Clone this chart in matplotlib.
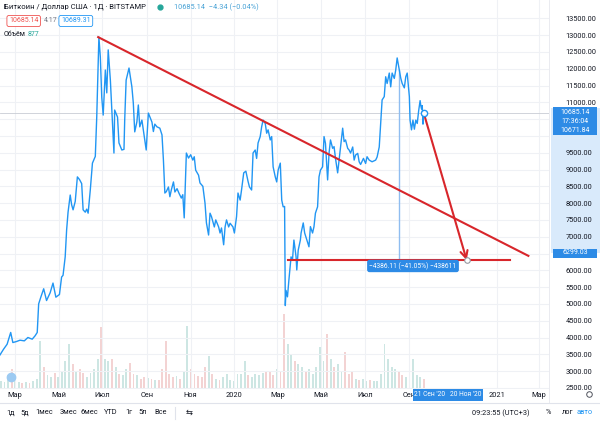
import numpy as np
import matplotlib.pyplot as plt
import matplotlib.dates as mdates
from matplotlib.patches import Rectangle

plt.rcParams['font.family'] = ['Roboto', 'DejaVu Sans']

# BTC/USD daily close
price_dates = [
    '2019-02-08', '2019-02-13', '2019-02-18', '2019-02-23', '2019-02-26', '2019-03-03',
    '2019-03-08', '2019-03-14', '2019-03-19', '2019-03-25', '2019-03-29', '2019-04-01',
    '2019-04-03', '2019-04-06', '2019-04-10', '2019-04-14', '2019-04-19', '2019-04-23',
    '2019-04-27', '2019-05-02', '2019-05-05', '2019-05-07', '2019-05-10', '2019-05-12',
    '2019-05-14', '2019-05-17', '2019-05-19', '2019-05-21', '2019-05-24', '2019-05-27',
    '2019-05-30', '2019-06-02', '2019-06-04', '2019-06-07', '2019-06-09', '2019-06-11',
    '2019-06-14', '2019-06-17', '2019-06-21', '2019-06-23', '2019-06-26', '2019-06-28',
    '2019-06-30', '2019-07-02', '2019-07-05', '2019-07-07', '2019-07-09', '2019-07-12',
    '2019-07-15', '2019-07-17', '2019-07-18', '2019-07-22', '2019-07-24', '2019-07-28',
    '2019-07-31', '2019-08-01', '2019-08-03', '2019-08-07', '2019-08-11', '2019-08-13',
    '2019-08-15', '2019-08-18', '2019-08-20', '2019-08-22', '2019-08-25', '2019-08-27',
    '2019-08-31', '2019-09-03', '2019-09-08', '2019-09-10', '2019-09-12', '2019-09-15',
    '2019-09-19', '2019-09-22', '2019-09-24', '2019-09-26', '2019-09-28', '2019-10-01',
    '2019-10-03', '2019-10-05', '2019-10-08', '2019-10-10', '2019-10-13', '2019-10-16',
    '2019-10-19', '2019-10-21', '2019-10-23', '2019-10-26', '2019-10-29', '2019-11-01',
    '2019-11-04', '2019-11-06', '2019-11-08', '2019-11-12', '2019-11-14', '2019-11-18',
    '2019-11-21', '2019-11-23', '2019-11-26', '2019-11-28', '2019-11-30', '2019-12-04',
    '2019-12-06', '2019-12-10', '2019-12-12', '2019-12-14', '2019-12-17', '2019-12-19',
    '2019-12-21', '2019-12-24', '2019-12-26', '2019-12-30', '2020-01-01', '2020-01-04',
    '2020-01-06', '2020-01-09', '2020-01-11', '2020-01-14', '2020-01-17', '2020-01-20',
    '2020-01-22', '2020-01-25', '2020-01-27', '2020-01-30', '2020-02-01', '2020-02-03',
    '2020-02-06', '2020-02-08', '2020-02-10', '2020-02-13', '2020-02-15', '2020-02-17',
    '2020-02-20', '2020-02-22', '2020-02-24', '2020-02-27', '2020-02-29', '2020-03-02',
    '2020-03-05', '2020-03-07', '2020-03-09', '2020-03-11', '2020-03-12', '2020-03-13',
    '2020-03-15', '2020-03-17', '2020-03-20', '2020-03-22', '2020-03-24', '2020-03-27',
    '2020-03-28', '2020-03-30', '2020-04-02', '2020-04-03', '2020-04-06', '2020-04-08',
    '2020-04-11', '2020-04-14', '2020-04-16', '2020-04-19', '2020-04-21', '2020-04-23',
    '2020-04-26', '2020-04-28', '2020-04-30', '2020-05-03', '2020-05-05', '2020-05-07',
    '2020-05-10', '2020-05-12', '2020-05-14', '2020-05-17', '2020-05-19', '2020-05-21',
    '2020-05-24', '2020-05-26', '2020-05-28', '2020-05-31', '2020-06-02', '2020-06-04',
    '2020-06-07', '2020-06-09', '2020-06-11', '2020-06-14', '2020-06-16', '2020-06-18',
    '2020-06-21', '2020-06-23', '2020-06-25', '2020-06-29', '2020-07-02', '2020-07-04',
    '2020-07-07', '2020-07-11', '2020-07-16', '2020-07-18', '2020-07-21', '2020-07-23',
    '2020-07-25', '2020-07-28', '2020-07-30', '2020-08-01', '2020-08-04', '2020-08-06',
    '2020-08-08', '2020-08-11', '2020-08-13', '2020-08-15', '2020-08-18', '2020-08-20',
    '2020-08-22', '2020-08-25', '2020-08-27', '2020-08-29', '2020-09-01', '2020-09-02',
    '2020-09-04', '2020-09-06', '2020-09-08', '2020-09-10', '2020-09-12', '2020-09-14',
    '2020-09-16', '2020-09-17', '2020-09-18', '2020-09-19', '2020-09-20', '2020-09-21',
]
price_values = [
    3480, 3650, 3800, 4150, 3850, 3880,
    3920, 3900, 4000, 3950, 4050, 4150,
    5000, 5200, 5450, 5100, 5330, 5620,
    5200, 5280, 5800, 5850, 6400, 7200,
    7730, 8240, 7950, 7800, 8050, 8780,
    8700, 8580, 7800, 7730, 7820, 7700,
    8390, 9190, 9390, 10560, 12940, 12350,
    11150, 10620, 11960, 11280, 12560, 11660,
    10380, 9490, 10770, 10560, 9790, 9580,
    9600, 10470, 11660, 12020, 11460, 10980,
    10120, 10420, 10920, 10270, 10470, 10180,
    9580, 10680, 10410, 10130, 10350, 10270,
    10230, 10030, 9280, 8300, 8340, 8480,
    8190, 8390, 8630, 8330, 8430, 8280,
    8150, 8250, 7560, 9490, 9340, 9440,
    9280, 9380, 8980, 8830, 8600, 8500,
    8000, 7410, 7050, 7700, 7600, 7290,
    7500, 7290, 7110, 7260, 6760, 7290,
    7500, 7290, 7400, 7290, 7110, 7600,
    8300, 8090, 8400, 8900, 8950, 8650,
    8480, 8390, 9490, 9580, 9330, 9790,
    9980, 10270, 10470, 10370, 10080, 10180,
    9880, 9980, 9080, 8780, 8630, 8980,
    9190, 8090, 7890, 7900, 4950, 5400,
    5210, 5710, 6400, 6300, 6900, 6400,
    6010, 6600, 6900, 7110, 7410, 7110,
    6900, 6700, 7300, 7110, 7300, 7700,
    7890, 8780, 8980, 9080, 9980, 9780,
    8690, 9490, 9880, 9630, 9680, 9330,
    8900, 9280, 9670, 10230, 9830, 9880,
    9630, 9580, 9490, 9670, 9280, 9430,
    9480, 9230, 9150, 9330, 9180, 9380,
    9280, 9230, 9280, 9370, 9670, 10380,
    11070, 11170, 11760, 11560, 11870, 11460,
    11870, 11710, 11960, 12320, 11960, 11720,
    11560, 11430, 11760, 11870, 11170, 10470,
    10180, 10470, 10200, 10470, 10370, 10750,
    11050, 10900, 10800, 10900, 10350, 10685.14,
]

# volume, one value per 5 days starting 2019-02-08 (BTC)
volume_start = '2019-02-08'
volume_btc = [
    4000, 3500, 7000, 10000, 4500, 3500, 3000, 3500, 3000, 4000,
    5000, 24000, 11000, 7000, 6000, 8000, 6000, 9000, 14000, 22500,
    12500, 9000, 10000, 8000, 6000, 8000, 10000, 15000, 31000, 15000,
    14000, 15000, 11000, 7500, 7000, 10000, 13000, 7500, 7000, 5000,
    6000, 5500, 5000, 4500, 4500, 10000, 24000, 7500, 6000, 6500,
    5000, 9000, 31500, 10000, 7500, 6500, 6000, 11000, 16500, 7500,
    5000, 4500, 6000, 7500, 4500, 4000, 7500, 7500, 14000, 7000,
    6000, 7500, 7000, 8000, 9000, 9000, 7000, 10000, 9000, 37500,
    22500, 17500, 14000, 12500, 11000, 9000, 10000, 7500, 11000, 21000,
    14000, 27500, 15000, 11000, 12500, 9000, 18500, 7500, 9000, 5000,
    4500, 5000, 4000, 4500, 4000, 4000, 7500, 22500, 15000, 11000,
    10000, 9000, 7000, 6000, 7500, 15000, 7000, 6000, 5000,
]

last_price = 10685.14
target_price = 6299.03
target_date = '2020-11-20'
trend_line = (['2019-06-25', '2021-02-14'], [12940, 6430])
support_line = (['2020-03-16', '2021-01-20'], [target_price, target_price])
range_line = (['2020-08-17', '2020-08-17'], [11950, target_price])

price_ticks = np.arange(2500, 14000, 500)
hidden_ticks = [6500, 10000, 10500]  # covered by the price tags
month_ticks = ['2019-03-01', '2019-05-01', '2019-07-01', '2019-09-01', '2019-11-01',
               '2020-01-01', '2020-03-01', '2020-05-01', '2020-07-01', '2020-09-01',
               '2021-01-01', '2021-03-01']
month_labels = ['Мар', 'Май', 'Июл', 'Сен', 'Ноя', '2020', 'Мар', 'Май', 'Июл', 'Сен',
                '2021', 'Мар']

BLUE = '#2196f3'
RED = '#d8262b'
TXT = '#131722'
TAG = '#2d8be6'

W, H = 600, 424
fig = plt.figure(figsize=(6, 4.24), dpi=100)


def fx(x):
    return x / W


def fy(y):
    return 1 - y / H


pane = [0, fy(389), 549 / W, 389 / H]
axv = fig.add_axes(pane)
ax = fig.add_axes(pane, sharex=axv)
ax.set_zorder(1)
axv.set_zorder(0)
ax.patch.set_visible(False)

# pixel scale of the screenshot: 0.717 px per day, 0.0336 px per dollar
origin = mdates.date2num(np.datetime64('2019-03-01'))
ax.set_xlim(origin - 15 / 0.717, origin + 534 / 0.717)
ax.set_ylim(13500 - (389 - 18.3) / 0.0336, 13500 + 18.3 / 0.0336)

dates = np.array(price_dates, dtype='datetime64[D]')
prices = np.array(price_values)

# volume bars
vdates = np.datetime64(volume_start) + np.arange(len(volume_btc)) * 5
dnum = mdates.date2num(dates)
vnum = mdates.date2num(vdates)
p_now = np.interp(vnum + 4, dnum, prices)
p_prev = np.interp(vnum - 1, dnum, prices)
vcol = ['#cde6e3' if a >= b else '#f3d3d3' for a, b in zip(p_now, p_prev)]
axv.bar(vdates, volume_btc, width=2.6, align='edge', color=vcol, linewidth=0)
axv.set_ylim(0, 389 * 500)
axv.axis('off')

# grid and axes
ax.set_xticks(mdates.date2num(np.array(month_ticks, dtype='datetime64[D]')))
ax.set_xticklabels(month_labels)
ax.yaxis.tick_right()
ax.set_yticks(price_ticks)
ax.set_yticklabels(['' if v in hidden_ticks else f'{v:.2f}' for v in price_ticks])
ax.grid(True, color='#eff1f5', lw=0.8)
ax.tick_params(axis='both', length=0, labelsize=5.3, labelcolor=TXT)
ax.tick_params(axis='y', pad=12)
ax.tick_params(axis='x', pad=2.5)
for s in ax.spines.values():
    s.set_visible(False)

ax.axhline(last_price, color='#c9ccd4', lw=0.6, zorder=2)

# price line
ax.plot(dates, prices, color=BLUE, lw=1.0, zorder=3)
ax.plot(dates[-1], last_price, 'o', mfc='white', mec=BLUE, ms=4.5, mew=1.0, zorder=6)

# drawings
ax.plot(np.array(range_line[0], dtype='datetime64[D]'), range_line[1],
        color='#8fbdf0', lw=1.0, zorder=2)
ax.plot(np.array(trend_line[0], dtype='datetime64[D]'), trend_line[1],
        color=RED, lw=1.5, zorder=4)
ax.plot(np.array(support_line[0], dtype='datetime64[D]'), support_line[1],
        color=RED, lw=1.5, zorder=4)
tdate = mdates.date2num(np.datetime64(target_date))
ax.annotate('', xy=(tdate, target_price), xytext=(dnum[-1], last_price),
            arrowprops=dict(arrowstyle='->', color=RED, lw=1.5, mutation_scale=13,
                            shrinkA=0, shrinkB=0), zorder=5)
ax.plot(tdate, target_price, 'o', mfc='white', mec='#9598a1', ms=4, mew=0.8, zorder=6)

fig.text(fx(413), fy(266), '−4386.11 (−41.05%) −438611', fontsize=4.8, color='white',
         ha='center', va='center',
         bbox=dict(boxstyle='round,pad=0.35', fc=TAG, ec='none'))

# header legend
fig.text(fx(4), fy(7), 'Биткоин / Доллар США · 1Д · BITSTAMP', fontsize=5.5,
         color=TXT, va='center')
fig.add_artist(plt.Line2D([fx(160)], [fy(7)], marker='o', ms=3.5, color='#26a69a',
                          transform=fig.transFigure))
fig.text(fx(174), fy(7), '10685.14  −4.34 (−0.04%)', fontsize=5.3, color='#4aa3d6',
         va='center')
fig.text(fx(9), fy(21), '10685.14', fontsize=5, color='#ef5350', va='center',
         bbox=dict(boxstyle='round,pad=0.3', fc='white', ec='#ef5350', lw=0.6))
fig.text(fx(44), fy(21), '4.17', fontsize=5, color='#787b86', va='center')
fig.text(fx(61), fy(21), '10689.31', fontsize=5, color=BLUE, va='center',
         bbox=dict(boxstyle='round,pad=0.3', fc='white', ec=BLUE, lw=0.6))
fig.text(fx(4), fy(35), 'Объём', fontsize=5, color=TXT, va='center')
fig.text(fx(28), fy(35), '877', fontsize=5, color='#26a69a', va='center')

# price scale highlight and tags
fig.add_artist(Rectangle((fx(551), fy(253)), fx(49), (253 - 108) / H,
                         transform=fig.transFigure, fc='#d9eafb', ec='none', zorder=0.5))


def axis_tag(y, text):
    fig.add_artist(Rectangle((fx(553), fy(y + 4.5)), fx(44), 9 / H,
                             transform=fig.transFigure, fc=TAG, ec='none', zorder=5))
    fig.text(fx(575), fy(y), text, fontsize=5, color='white', ha='center',
             va='center', zorder=6)


axis_tag(112, '10685.14')
axis_tag(121, '17:36:04')
axis_tag(130, '10671.84')
axis_tag(253, '6299.03')


def time_tag(x, text):
    fig.add_artist(Rectangle((fx(x - 17.5), fy(401)), fx(35), 12 / H,
                             transform=fig.transFigure, fc=TAG, ec='none', zorder=5))
    fig.text(fx(x), fy(395), text, fontsize=4.8, color='white', ha='center',
             va='center', zorder=6)


time_tag(430, "21 Сен '20")
time_tag(465.5, "20 Ноя '20")

# separators
fig.add_artist(plt.Line2D([fx(549), fx(549)], [fy(0), fy(403)], color='#e6e8ee', lw=0.6,
                          transform=fig.transFigure))
fig.add_artist(plt.Line2D([0, 1], [fy(403), fy(403)], color='#e0e3eb', lw=0.8,
                          transform=fig.transFigure))
fig.add_artist(plt.Line2D([fx(175), fx(175)], [fy(407), fy(419)], color='#e0e3eb', lw=0.8,
                          transform=fig.transFigure))
fig.add_artist(plt.Line2D([fx(11)], [fy(377)], marker='o', ms=6, color='#9ccaf2',
                          transform=fig.transFigure))
fig.add_artist(plt.Line2D([fx(589)], [fy(394)], marker='o', ms=4, mfc='white',
                          mec='#50535e', mew=0.7, transform=fig.transFigure))

# bottom toolbar
toolbar = [('1д', 11), ('5д', 25), ('1мес', 44), ('3мес', 68), ('6мес', 89),
           ('YTD', 111), ('1г', 129), ('5л', 143), ('Все', 161)]
for lbl, x in toolbar:
    fig.text(fx(x), fy(413), lbl, fontsize=5.3, color=TXT, ha='center', va='center')
fig.text(fx(189), fy(413), '⇆', fontsize=6, color=TXT, ha='center', va='center')
fig.text(fx(501), fy(413), '09:23:55 (UTC+3)', fontsize=5.3, color=TXT, ha='center',
         va='center')
fig.text(fx(548), fy(413), '%', fontsize=5.3, color=TXT, ha='center', va='center')
fig.text(fx(568), fy(413), 'лог', fontsize=5.3, color=TXT, ha='center', va='center')
fig.text(fx(585), fy(413), 'авто', fontsize=5.3, color=BLUE, ha='center', va='center')

fig.savefig('out.png', dpi=100, facecolor='white')
